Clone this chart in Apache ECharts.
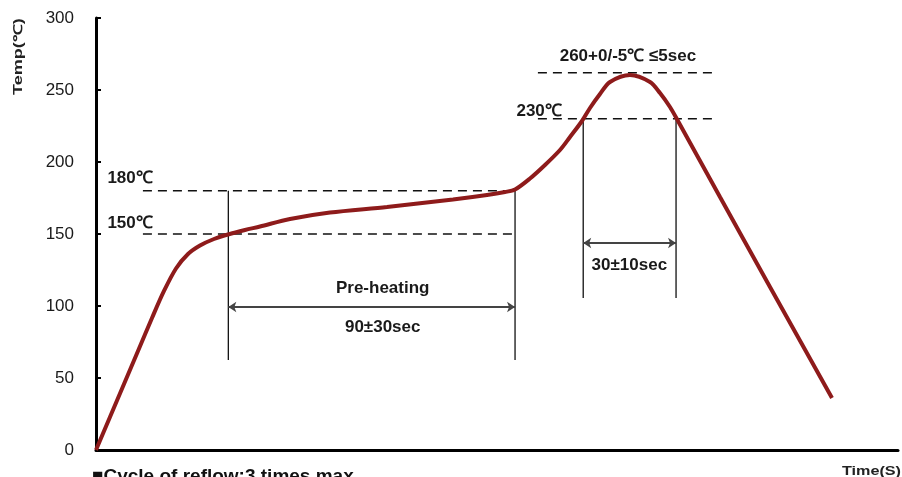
<!DOCTYPE html>
<html><head><meta charset="utf-8">
<script src="https://cdn.jsdelivr.net/npm/echarts@6/dist/echarts.min.js"></script>
<style>html,body{margin:0;padding:0;background:#fff}#c{width:902px;height:477px}</style>
</head><body><div id="c"></div>
<script>
// Reflow profile curve: time (arbitrary seconds scale) and temperature (℃)
const curveTime = [0,6.98,13.97,20.95,27.93,33.92,39.90,45.89,51.87,58.85,65.84,74.31,81.80,96.76,116.71,145.14,178.05,195.01,203.99,208.98,216.46,223.94,231.42,236.41,242.39,246.38,251.37,256.36,266.33,276.31,281.30,286.28,290.27,311.22,336.16,367.08];
const curveTemp = [0,22.92,45.83,68.75,91.67,110.42,126.04,136.11,142.01,146.53,149.65,152.78,155.21,160.42,164.93,168.75,173.96,177.08,179.17,180.90,188.54,197.92,208.33,217.36,228.47,237.5,247.22,255.56,260.42,255.56,247.92,238.19,228.47,175.69,113.19,36.11];
const yTicks = [0,50,100,150,200,250,300];

// Reference levels (dashed)
const dashLevels = [
  {temp:180, from:23.4, to:209},
  {temp:150, from:23.4, to:209},
  {temp:230, from:220.4, to:310},
  {temp:262, from:220.4, to:310}
];
// Vertical markers
const vMarks = [
  {time:66, from:62.5, to:180},
  {time:209, from:62.5, to:180},
  {time:243, from:105.6, to:230},
  {time:289.3, from:105.6, to:230}
];
// Double arrows
const arrows = [
  {from:66, to:209, temp:99.3},
  {from:243, to:289.3, temp:143.75}
];
// Annotation texts
const notes = [
  {text:'180℃', time:17, temp:188.5},
  {text:'150℃', time:17, temp:157.5},
  {text:'230℃', time:221, temp:235.5},
  {text:'260+0/-5℃ ≤5sec', time:265.3, temp:273.5},
  {text:'Pre-heating', time:143, temp:112.5},
  {text:'90±30sec', time:143, temp:85.5},
  {text:'30±10sec', time:266, temp:128.5}
];

const chart = echarts.init(document.getElementById('c'));
const series = [];
dashLevels.forEach(d => series.push({
  type:'line', data:[[d.from,d.temp],[d.to,d.temp]], symbol:'none', silent:true,
  lineStyle:{color:'#111', width:1.5, type:[9,6]}, z:2
}));
vMarks.forEach(v => series.push({
  type:'line', data:[[v.time,v.from],[v.time,v.to]], symbol:'none', silent:true,
  lineStyle:{color:'#111', width:1.3}, z:2
}));
series.push({
  type:'lines', coordinateSystem:'cartesian2d', silent:true,
  symbol:['arrow','arrow'], symbolSize:8,
  lineStyle:{color:'#444', width:2, opacity:1},
  data: arrows.map(a => ({coords:[[a.from,a.temp],[a.to,a.temp]]})), z:3
});
series.push({
  type:'line', data: curveTime.map((t,i)=>[t,curveTemp[i]]), symbol:'none', smooth:0.3,
  lineStyle:{color:'#8e1b1b', width:4}, z:5
});
series.push({
  type:'scatter', symbolSize:0, silent:true, z:6, itemStyle:{opacity:1},
  data: notes.map(n => ({value:[n.time,n.temp], name:n.text})),
  label:{show:true, position:'inside', formatter:p=>p.name, color:'#1a1a1a', opacity:1,
    fontFamily:'Liberation Sans, Arial, sans-serif', fontSize:17, fontWeight:'bold'}
});

chart.setOption({
  animation:false,
  backgroundColor:'#fff',
  grid:{left:96, right:4, top:18, bottom:27},
  xAxis:{type:'value', min:0, max:400, axisLine:{lineStyle:{color:'#000', width:3}},
    axisTick:{show:false}, axisLabel:{show:false}, splitLine:{show:false}},
  yAxis:{type:'value', min:0, max:300, interval:50,
    axisLine:{show:true, lineStyle:{color:'#000', width:3}},
    axisTick:{show:true, inside:true, length:5, lineStyle:{color:'#000', width:2}},
    axisLabel:{color:'#1a1a1a', fontSize:17, margin:22, fontFamily:'Liberation Sans, Arial, sans-serif',
      formatter: v => yTicks.includes(v) ? String(v) : ''},
    splitLine:{show:false}},
  graphic:[
    {type:'text', x:13, y:95, rotation:Math.PI/2, scaleX:1.5, style:{text:'Temp(℃)', fill:'#222',
      font:'bold 12px Liberation Sans, Arial, sans-serif', textAlign:'left', textVerticalAlign:'top'}},
    {type:'text', x:901, y:466, scaleX:1.35, style:{text:'Time(S)', fill:'#222',
      font:'bold 12px Liberation Sans, Arial, sans-serif', textAlign:'right', textVerticalAlign:'top'}},
    {type:'text', x:92, y:467, style:{text:'■Cycle of reflow:3 times max', fill:'#111',
      font:'bold 19px Liberation Sans, Arial, sans-serif', textAlign:'left', textVerticalAlign:'top'}}
  ],
  series: series
});
</script></body></html>
